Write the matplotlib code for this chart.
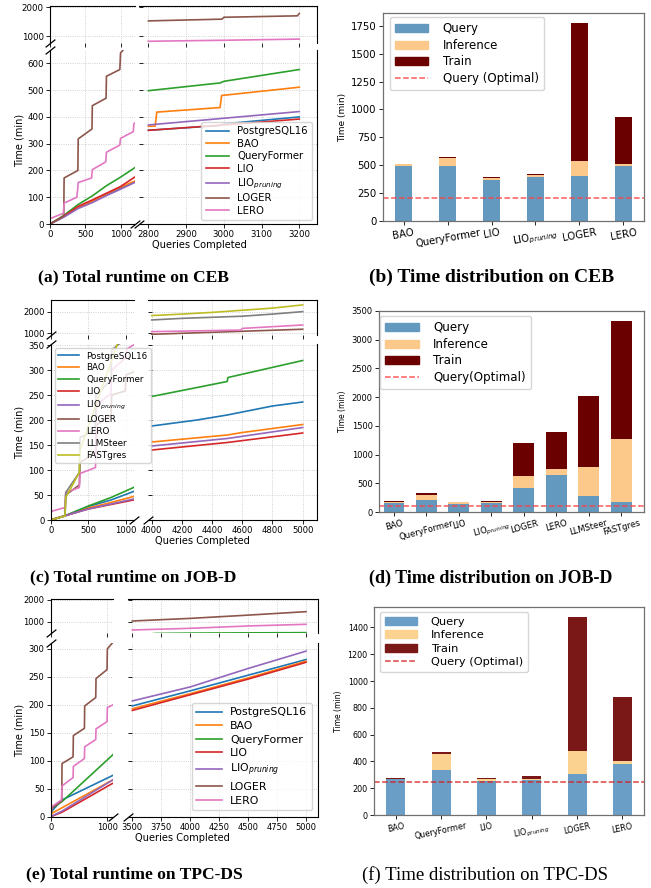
import matplotlib
matplotlib.use('Agg')
import matplotlib.pyplot as plt
from matplotlib.patches import Patch
from matplotlib.lines import Line2D

# ---------------- data: (a) CEB cumulative runtime ----------------
CEB_PG_X = [0, 200, 400, 600, 800, 1000, 1200, 2800, 2990, 3000, 3200]
CEB_PG_Y = [0, 29, 62, 84, 110, 133, 157, 350, 368, 374, 400]
CEB_BAO_X = [0, 200, 400, 600, 800, 1000, 1200, 2800, 2818, 2822, 2990, 2994, 3200]
CEB_BAO_Y = [0, 28, 62, 85, 112, 138, 160, 365, 366, 418, 435, 480, 511]
CEB_QF_X = [0, 200, 400, 600, 800, 1000, 1200, 2800, 2990, 3000, 3200]
CEB_QF_Y = [0, 33, 73, 105, 143, 175, 210, 498, 527, 533, 577]
CEB_LIO_X = [0, 200, 400, 600, 800, 1000, 1200, 2800, 3000, 3200]
CEB_LIO_Y = [0, 30, 66, 90, 115, 140, 175, 350, 370, 392]
CEB_LIOP_X = [0, 200, 400, 600, 800, 1000, 1200, 2800, 3000, 3200]
CEB_LIOP_Y = [0, 26, 58, 80, 106, 130, 155, 370, 395, 420]
CEB_LOGER_X = [0, 195, 200, 395, 400, 595, 600, 795, 800, 990, 1000, 1200, 2800, 2995, 3000, 3195, 3200]
CEB_LOGER_Y = [0, 29, 172, 200, 318, 355, 442, 470, 552, 577, 639, 700, 1535, 1595, 1660, 1710, 1790]
CEB_LERO_X = [0, 190, 200, 380, 392, 400, 590, 600, 790, 800, 990, 1000, 1180, 1190, 1200, 2800, 3000, 3200]
CEB_LERO_Y = [20, 40, 78, 100, 128, 155, 172, 203, 232, 268, 295, 320, 345, 375, 377, 830, 865, 905]

# ---------------- data: (c) JOB-D cumulative runtime ----------------
JOB_PG_X = [0, 200, 500, 800, 1100, 4000, 4300, 4500, 4700, 4800, 5000]
JOB_PG_Y = [0, 9, 27, 40, 57, 188, 200, 210, 222, 228, 236]
JOB_BAO_X = [0, 200, 500, 800, 1100, 4000, 4500, 4600, 5000]
JOB_BAO_Y = [0, 9, 24, 35, 47, 156, 170, 175, 191]
JOB_QF_X = [0, 200, 500, 800, 1100, 4000, 4500, 4505, 5000]
JOB_QF_Y = [0, 9, 28, 45, 65, 247, 277, 285, 319]
JOB_LIO_X = [0, 200, 500, 800, 1100, 4000, 4500, 5000]
JOB_LIO_Y = [0, 9, 22, 31, 40, 140, 155, 174]
JOB_LIOP_X = [0, 200, 500, 800, 1100, 4000, 4500, 5000]
JOB_LIOP_Y = [0, 9, 22, 32, 42, 148, 163, 185]
JOB_LOGER_X = [0, 190, 200, 380, 390, 600, 610, 800, 810, 990, 1000, 1100, 4000, 5000]
JOB_LOGER_Y = [0, 8, 50, 70, 115, 135, 190, 210, 250, 258, 290, 296, 953, 1190]
JOB_LERO_X = [0, 190, 200, 380, 390, 595, 605, 800, 810, 1000, 1010, 1100, 4000, 4590, 4600, 5000]
JOB_LERO_Y = [17, 25, 55, 65, 93, 105, 230, 253, 300, 325, 342, 350, 1078, 1150, 1230, 1390]
JOB_LLM_X = [0, 190, 200, 380, 390, 590, 600, 800, 810, 1100, 4000, 4200, 4600, 4800, 5000]
JOB_LLM_Y = [0, 8, 55, 95, 165, 180, 250, 280, 340, 375, 1625, 1700, 1800, 1900, 2015]
JOB_FAST_X = [0, 190, 200, 380, 390, 880, 1100, 4000, 4200, 4400, 4600, 4800, 5000]
JOB_FAST_Y = [0, 8, 45, 95, 140, 350, 445, 1830, 1900, 1980, 2080, 2180, 2330]

# ---------------- data: (e) TPC-DS cumulative runtime ----------------
TPC_PG_X = [0, 20, 200, 1100, 3500, 4000, 4500, 5000]
TPC_PG_Y = [0, 10, 30, 74, 198, 225, 253, 281]
TPC_BAO_X = [0, 20, 1100, 3500, 4000, 4500, 5000]
TPC_BAO_Y = [0, 6, 66, 193, 220, 248, 278]
TPC_QF_X = [0, 20, 200, 1100, 3500, 3700, 4000, 4500, 5000]
TPC_QF_Y = [0, 15, 27, 111, 360, 455, 470, 482, 492]
TPC_LIO_X = [0, 200, 1100, 3500, 4000, 4500, 5000]
TPC_LIO_Y = [0, 8, 60, 190, 218, 246, 276]
TPC_LIOP_X = [0, 200, 1100, 3500, 4000, 4500, 5000]
TPC_LIOP_Y = [0, 10, 66, 207, 232, 265, 296]
TPC_LOGER_X = [0, 20, 195, 200, 395, 400, 595, 600, 795, 800, 995, 1000, 1100, 3500, 4000, 4500, 5000]
TPC_LOGER_Y = [0, 15, 28, 95, 107, 145, 158, 198, 213, 247, 263, 300, 312, 1030, 1150, 1300, 1460]
TPC_LERO_X = [0, 20, 190, 200, 395, 400, 595, 600, 795, 800, 995, 1000, 1100, 3500, 4000, 4500, 5000]
TPC_LERO_Y = [0, 18, 30, 55, 70, 90, 104, 125, 138, 157, 170, 195, 200, 615, 692, 800, 877]

# ---------------- data: time distribution bars ----------------
CEB_METHODS = ['BAO', 'QueryFormer', 'LIO', 'LIO$_{pruning}$', 'LOGER', 'LERO']
CEB_QUERY = [495, 495, 370, 394, 400, 490]
CEB_INFER = [15, 66, 15, 15, 137, 23]
CEB_TRAIN = [2, 15, 9, 12, 1242, 421]
CEB_OPT = 209

JOB_METHODS = ['BAO', 'QueryFormer', 'LIO', 'LIO$_{pruning}$', 'LOGER', 'LERO', 'LLMSteer', 'FASTgres']
JOB_QUERY = [156, 220, 150, 156, 416, 648, 283, 185]
JOB_INFER = [23, 87, 23, 23, 220, 98, 509, 1093]
JOB_TRAIN = [12, 23, 6, 12, 561, 642, 1221, 2042]
JOB_OPT = 110

TPC_METHODS = ['BAO', 'QueryFormer', 'LIO', 'LIO$_{pruning}$', 'LOGER', 'LERO']
TPC_QUERY = [268, 336, 256, 261, 306, 381]
TPC_INFER = [3, 119, 10, 10, 172, 22]
TPC_TRAIN = [8, 15, 13, 20, 1000, 478]
TPC_OPT = 249

LINE_LABELS = ['PostgreSQL16', 'BAO', 'QueryFormer', 'LIO', 'LIO$_{pruning}$', 'LOGER', 'LERO',
               'LLMSteer', 'FASTgres']
LINE_COLORS = ['tab:blue', 'tab:orange', 'tab:green', 'tab:red', 'tab:purple', 'tab:brown',
               'tab:pink', 'tab:gray', 'tab:olive']

W, H = 651, 888
fig = plt.figure(figsize=(W / 100, H / 100), dpi=100)


def rect(x0, y0, x1, y1):
    return [x0 / W, 1 - y1 / H, (x1 - x0) / W, (y1 - y0) / H]


def brk(ax, xa, ya):
    ax.plot([xa], [ya], transform=ax.transAxes, marker=[(-1, -0.8), (1, 0.8)], markersize=7,
            linestyle='none', color='k', mec='k', mew=0.9, clip_on=False, zorder=10)


def broken(rows, xlimL, xlimR, split, ylimB, ylimT, ytB, ytT, xtL, xtR, series, fs):
    tl = fig.add_axes(rect(*rows[0]))
    tr = fig.add_axes(rect(*rows[2]))
    br = fig.add_axes(rect(*rows[3]))
    bl = fig.add_axes(rect(*rows[1]))
    bl.set_zorder(3)
    for ax, left in ((tl, True), (bl, True), (tr, False), (br, False)):
        for (lab, xs, ys, col) in series:
            pts = [(x, y) for x, y in zip(xs, ys) if (x <= split) == left]
            ax.plot([p[0] for p in pts], [p[1] for p in pts], color=col, lw=1.2, label=lab)
        ax.grid(True, ls=':', lw=0.6, color='#c4c4c4')
        ax.tick_params(labelsize=fs, length=3, width=0.6, pad=1.5)
        for s in ax.spines.values():
            s.set_linewidth(0.8)
    for ax in (tl, bl):
        ax.set_xlim(*xlimL)
        ax.set_xticks(xtL)
    for ax in (tr, br):
        ax.set_xlim(*xlimR)
        ax.set_xticks(xtR)
    for ax in (tl, tr):
        ax.set_ylim(*ylimT)
        ax.set_yticks(ytT)
        ax.tick_params(labelbottom=False)
        ax.spines['bottom'].set_visible(False)
    for ax in (bl, br):
        ax.set_ylim(*ylimB)
        ax.set_yticks(ytB)
        ax.spines['top'].set_visible(False)
    for ax in (tl, bl):
        ax.spines['right'].set_visible(False)
    for ax in (tr, br):
        ax.spines['left'].set_visible(False)
        ax.tick_params(axis='y', labelleft=False, direction='in')
    brk(tl, 0, 0)
    brk(bl, 0, 1)
    brk(bl, 1, 0)
    brk(br, 0, 0)
    return tl, bl, tr, br


def series_list(xs_list, ys_list):
    return [(LINE_LABELS[i], xs_list[i], ys_list[i], LINE_COLORS[i]) for i in range(len(xs_list))]


# ---------- (a) ----------
ser_a = series_list([CEB_PG_X, CEB_BAO_X, CEB_QF_X, CEB_LIO_X, CEB_LIOP_X, CEB_LOGER_X, CEB_LERO_X],
                    [CEB_PG_Y, CEB_BAO_Y, CEB_QF_Y, CEB_LIO_Y, CEB_LIOP_Y, CEB_LOGER_Y, CEB_LERO_Y])
a_tl, a_bl, a_tr, a_br = broken([(50, 6, 135, 43), (50, 50, 135, 224), (139, 6, 317, 43), (139, 50, 317, 224)],
                                (0, 1205), (2775, 3247), 2000, (0, 650), (770, 2050),
                                [0, 100, 200, 300, 400, 500, 600], [1000, 2000],
                                [0, 500, 1000], [2800, 2900, 3000, 3100, 3200], ser_a, 6.2)
a_br.legend(loc='lower right', bbox_to_anchor=(0.97, 0.023), borderaxespad=0, fontsize=7.3,
            handlelength=2.3, labelspacing=0.25, borderpad=0.4)
fig.text(20 / W, 1 - 140 / H, 'Time (min)', rotation=90, ha='center', va='center', fontsize=7)
fig.text(199 / W, 1 - 245 / H, 'Queries Completed', ha='center', va='center', fontsize=7.1)

# ---------- (c) ----------
ser_c = series_list([JOB_PG_X, JOB_BAO_X, JOB_QF_X, JOB_LIO_X, JOB_LIOP_X, JOB_LOGER_X, JOB_LERO_X,
                     JOB_LLM_X, JOB_FAST_X],
                    [JOB_PG_Y, JOB_BAO_Y, JOB_QF_Y, JOB_LIO_Y, JOB_LIOP_Y, JOB_LOGER_Y, JOB_LERO_Y,
                     JOB_LLM_Y, JOB_FAST_Y])
c_tl, c_bl, c_tr, c_br = broken([(50.7, 300, 134.3, 335), (50.7, 344, 134.3, 520),
                                 (147.7, 300, 316.7, 335), (147.7, 344, 316.7, 520)],
                                (0, 1110), (3973, 5093), 2500, (0, 352), (920, 2560),
                                [0, 50, 100, 150, 200, 250, 300, 350], [1000, 2000],
                                [0, 500, 1000], [4000, 4200, 4400, 4600, 4800, 5000], ser_c, 6.1)
c_bl.legend(loc='upper left', bbox_to_anchor=(0.051, 0.977), borderaxespad=0, fontsize=6.3,
            handlelength=2.4, labelspacing=0.33, borderpad=0.4)
fig.text(20 / W, 1 - 432 / H, 'Time (min)', rotation=90, ha='center', va='center', fontsize=7)
fig.text(202 / W, 1 - 541 / H, 'Queries Completed', ha='center', va='center', fontsize=7.1)

# ---------- (e) ----------
ser_e = series_list([TPC_PG_X, TPC_BAO_X, TPC_QF_X, TPC_LIO_X, TPC_LIOP_X, TPC_LOGER_X, TPC_LERO_X],
                    [TPC_PG_Y, TPC_BAO_Y, TPC_QF_Y, TPC_LIO_Y, TPC_LIOP_Y, TPC_LOGER_Y, TPC_LERO_Y])
e_tl, e_bl, e_tr, e_br = broken([(50.7, 599.3, 113.3, 633.3), (50.7, 643.3, 113.3, 816.7),
                                 (128.3, 599.3, 318.3, 633.3), (128.3, 643.3, 318.3, 816.7)],
                                (0, 1105), (3465, 5106), 2300, (0, 310), (462, 2030),
                                [0, 50, 100, 150, 200, 250, 300], [1000, 2000],
                                [0, 1000], [3500, 3750, 4000, 4250, 4500, 4750, 5000], ser_e, 6.0)
e_br.legend(loc='lower right', bbox_to_anchor=(0.966, 0.039), borderaxespad=0, fontsize=7.9,
            handlelength=2.3, labelspacing=0.33, borderpad=0.4)
fig.text(20 / W, 1 - 730 / H, 'Time (min)', rotation=90, ha='center', va='center', fontsize=7)
fig.text(182 / W, 1 - 838 / H, 'Queries Completed', ha='center', va='center', fontsize=7.1)


# ---------- bar panels ----------
def bars(r, methods, q, inf, tr, opt, width, ylim, yticks, cols, optcol, fs_tick, fs_lab, fs_leg,
         rot, optlabel, anchor, xlim=None):
    ax = fig.add_axes(rect(*r))
    x = list(range(len(methods)))
    b1 = [q[i] for i in x]
    b2 = [q[i] + inf[i] for i in x]
    ax.bar(x, q, width, color=cols[0])
    ax.bar(x, inf, width, bottom=b1, color=cols[1])
    ax.bar(x, tr, width, bottom=b2, color=cols[2])
    ax.axhline(opt, color=optcol, ls='--', lw=1.1, alpha=0.85)
    ax.set_ylim(*ylim)
    ax.set_yticks(yticks)
    if xlim is not None:
        ax.set_xlim(*xlim)
    ax.set_xticks(x)
    ax.set_xticklabels(methods, rotation=rot, ha='center')
    ax.tick_params(labelsize=fs_tick, length=3, width=0.6, pad=1.5)
    ax.set_ylabel('Time (min)', fontsize=fs_lab, labelpad=3)
    for s in ax.spines.values():
        s.set_color('#707070')
        s.set_linewidth(0.9)
    handles = [Patch(color=cols[0]), Patch(color=cols[1]), Patch(color=cols[2]),
               Line2D([0], [0], color=optcol, ls='--', lw=1.1, alpha=0.85)]
    ax.legend(handles, ['Query', 'Inference', 'Train', optlabel], loc='upper left', bbox_to_anchor=anchor,
              borderaxespad=0, fontsize=fs_leg, handlelength=2.8, labelspacing=0.3, borderpad=0.45,
              handletextpad=1.2)
    return ax


COL_B = ['#6399be', '#fcc98a', '#6b0000']
COL_F = ['#6b9ec6', '#fbd290', '#7a1717']
ax_b = bars((383, 13, 644, 221), CEB_METHODS, CEB_QUERY, CEB_INFER, CEB_TRAIN, CEB_OPT, 0.4,
            (0, 1865), [0, 250, 500, 750, 1000, 1250, 1500, 1750], COL_B, '#ff4040', 7.3, 6.5, 8.5, 10,
            'Query (Optimal)', (0.027, 0.981))
ax_d = bars((379, 310.7, 644, 512.3), JOB_METHODS, JOB_QUERY, JOB_INFER, JOB_TRAIN, JOB_OPT, 0.64,
            (0, 3500), [0, 500, 1000, 1500, 2000, 2500, 3000, 3500], COL_B, '#ff4040', 6.0, 5.5, 8.6, 15,
            'Query(Optimal)', (0.004, 0.974), xlim=(-0.46, 7.7))
ax_f = bars((374, 606.7, 644.3, 815), TPC_METHODS, TPC_QUERY, TPC_INFER, TPC_TRAIN, TPC_OPT, 0.42,
            (0, 1555), [0, 200, 400, 600, 800, 1000, 1200, 1400], COL_F, '#d62020', 5.8, 5.5, 8.2, 12,
            'Query (Optimal)', (0.022, 0.975))

# ---------- captions ----------
CAP_FONT = ['Liberation Serif', 'DejaVu Serif']
fig.text(133 / W, 1 - 277 / H, '(a) Total runtime on CEB', ha='center', va='center', fontsize=12.6,
         fontweight='bold', family=CAP_FONT)
fig.text(492 / W, 1 - 277 / H, '(b) Time distribution on CEB', ha='center', va='center', fontsize=14,
         fontweight='bold', family=CAP_FONT)
fig.text(133 / W, 1 - 577 / H, '(c) Total runtime on JOB-D', ha='center', va='center', fontsize=12.6,
         fontweight='bold', family=CAP_FONT)
fig.text(491 / W, 1 - 578 / H, '(d) Time distribution on JOB-D', ha='center', va='center', fontsize=13,
         fontweight='bold', family=CAP_FONT)
fig.text(134 / W, 1 - 874 / H, '(e) Total runtime on TPC-DS', ha='center', va='center', fontsize=12.6,
         fontweight='bold', family=CAP_FONT)
fig.text(485 / W, 1 - 875 / H, '(f) Time distribution on TPC-DS', ha='center', va='center', fontsize=13.5,
         family=CAP_FONT)

fig.savefig('out.png', dpi=100)
